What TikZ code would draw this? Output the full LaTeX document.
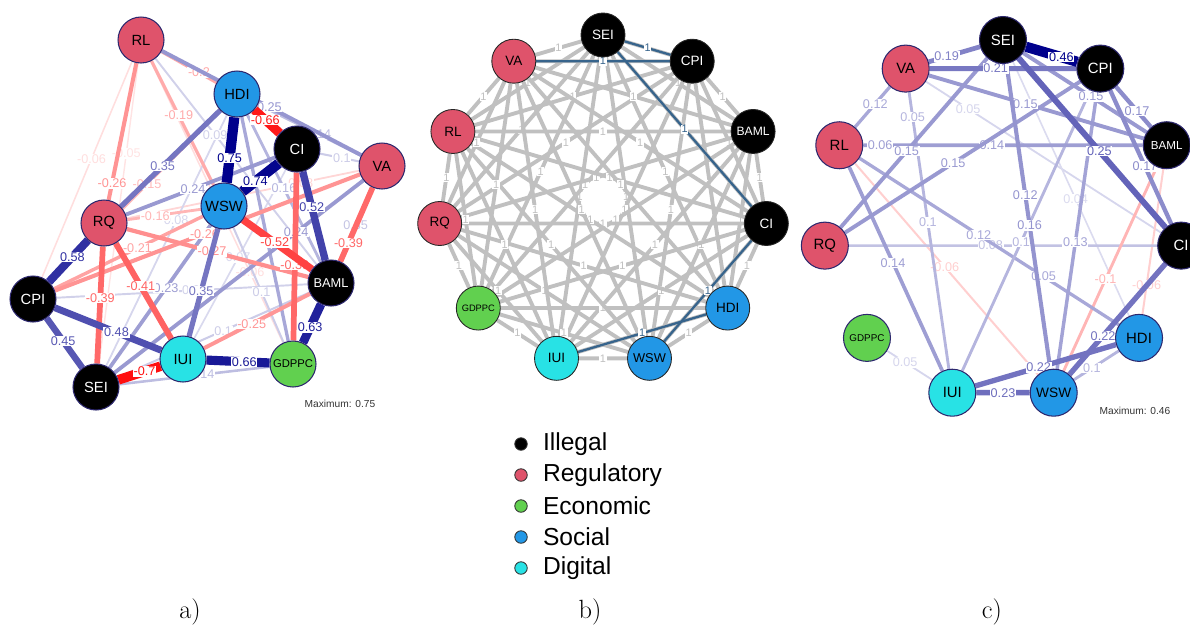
\documentclass[tikz,border=0pt]{standalone}
\usepackage{fontspec}
\setsansfont{Liberation Sans}
\usetikzlibrary{positioning}
\pgfdeclarelayer{edges}
\pgfsetlayers{edges,main}
\definecolor{posc}{RGB}{0,0,140}
\definecolor{negc}{RGB}{255,0,0}
\definecolor{regc}{HTML}{DF536B}
\definecolor{ecoc}{HTML}{61D04F}
\definecolor{socc}{HTML}{2297E6}
\definecolor{digc}{HTML}{28E2E5}
\definecolor{rimc}{RGB}{45,40,110}
\definecolor{onec}{RGB}{192,192,192}
\definecolor{bluec}{RGB}{55,100,140}
\begin{document}
\begin{tikzpicture}[x=0.02cm, y=-0.02cm,
    wmax/.store in=\wmax, wmax=0.75,
    wt/.code={\pgfmathsetmacro\wf{min(abs(#1)/\wmax,1)}%
      \pgfmathtruncatemacro\wc{100*\wf^0.8}%
      \ifdim #1pt<0pt \def\wcol{negc}\else \def\wcol{posc}\fi
      \tikzset{color=\wcol!\wc!white, line width=0.45pt+5.4pt*\wf}},
    anode/.style={circle, draw=rimc, line width=0.6pt, minimum size=0.92cm, inner sep=0pt, font=\sffamily\fontsize{8.4}{9}\selectfont},
    bnode/.style={circle, draw=black!85, line width=0.5pt, minimum size=0.88cm, inner sep=0pt},
    cnode/.style={circle, draw=rimc, line width=0.6pt, minimum size=0.94cm, inner sep=0pt},
    ill/.style={fill=black, text=white},
    reg/.style={fill=regc},
    eco/.style={fill=ecoc},
    soc/.style={fill=socc},
    dig/.style={fill=digc},
    lab/.style={fill=white, inner sep=0.4pt, font=\sffamily\fontsize{7.2}{7.2}\selectfont},
    grayedge/.style={color=onec, line width=2.2pt},
    blueedge/.style={color=bluec, line width=1.3pt},
    onelab/.style={fill=white, inner sep=0.4pt, font=\sffamily\fontsize{6.2}{6.2}\selectfont},
    maxtext/.style={font=\sffamily\fontsize{5.8}{6}\selectfont, text=black!80},
    legdot/.style={circle, draw=black!80, line width=0.5pt, minimum size=0.25cm, inner sep=0pt},
    legtext/.style={font=\sffamily\fontsize{14}{14}\selectfont, inner sep=0pt},
    sub/.style={font=\fontsize{15}{15}\selectfont}]
  \useasboundingbox (0,0) rectangle (1190,627);

  % a) correlation network
  \node[anode, reg] (aRL) at (141,40) {RL};
  \node[anode, soc] (aHDI) at (237,94) {HDI};
  \node[anode, ill] (aCI) at (297,149) {CI};
  \node[anode, reg] (aVA) at (382,166) {VA};
  \node[anode, soc] (aWSW) at (224,206) {WSW};
  \node[anode, reg] (aRQ) at (104,223) {RQ};
  \node[anode, ill] (aCPI) at (33,299) {CPI};
  \node[anode, ill, font=\sffamily\fontsize{7.3}{8}\selectfont] (aBAML) at (331,283) {BAML};
  \node[anode, dig] (aIUI) at (183,359) {IUI};
  \node[anode, eco, font=\sffamily\fontsize{6.4}{7}\selectfont] (aGDPPC) at (293,364) {GDPPC};
  \node[anode, ill] (aSEI) at (96,387) {SEI};
  \node[maxtext] (amax) at (340,404) {Maximum: 0.75};

  % b) full graph on a circle
  \def\blist{SEI,CPI,BAML,CI,HDI,WSW,IUI,GDPPC,RQ,RL,VA}
  \foreach \nm/\ty/\fs [count=\k] in {SEI/ill/7.7,CPI/ill/7.7,BAML/ill/6.9,CI/ill/7.7,HDI/soc/7.7,WSW/soc/7.3,IUI/dig/7.7,GDPPC/eco/5.3,RQ/reg/7.7,RL/reg/7.7,VA/reg/7.7}
    \node[bnode, \ty, font=\sffamily\fontsize{\fs}{\fs}\selectfont] (b\nm)
      at ({603+165*cos(90-32.727*(\k-1))},{200-165*sin(90-32.727*(\k-1))}) {\nm};

  % c) same circle, weighted
  \foreach \nm/\ty/\fs [count=\k] in {SEI/ill/8.5,CPI/ill/8.5,BAML/ill/6.6,CI/ill/8.5,HDI/soc/8.5,WSW/soc/7.8,IUI/dig/8.5,GDPPC/eco/5.6,RQ/reg/8.5,RL/reg/8.5,VA/reg/8.5}
    \node[cnode, \ty, font=\sffamily\fontsize{\fs}{\fs}\selectfont] (c\nm)
      at ({1003+180*cos(90-32.727*(\k-1))},{220-180*sin(90-32.727*(\k-1))}) {\nm};
  \node[maxtext] (cmax) at (1135,411) {Maximum: 0.46};

  % legend
  \foreach \ty/\nm [count=\k] in {black/Illegal,regc/Regulatory,ecoc/Economic,socc/Social,digc/Digital} {
    \node[legdot, fill=\ty] (d\k) at (521,{444+31*(\k-1)}) {};
    \node[legtext, right=0.3cm of d\k] (t\k) {\nm};
  }
  \node[sub] (la) at (190,612) {a)};
  \node[sub] (lb) at (590,612) {b)};
  \node[sub] (lc) at (992,612) {c)};

  \begin{pgfonlayer}{edges}
    % a)
    \draw[wt=-0.05] (aRL) to node[lab,pos=0.3]{-0.05} (aSEI);
    \draw[wt=-0.06] (aRL) to node[lab,pos=0.45]{-0.06} (aCPI);
    \draw[wt=-0.06] (aRL) to node[lab,pos=0.75]{-0.06} (aGDPPC);
    \draw[wt=0.07] (aCI) to node[lab,pos=0.52]{0.07} (aIUI);
    \draw[wt=-0.08] (aRQ) to node[lab,pos=0.74]{-0.08} (aVA);
    \draw[wt=0.08] (aSEI) to node[lab,pos=0.58]{0.08} (aHDI);
    \draw[wt=0.09] (aRL) to node[lab,pos=0.37]{0.09} (aBAML);
    \draw[wt=0.09] (aCPI) to node[lab,pos=0.55]{0.09} (aBAML);
    \draw[wt=0.1] (aSEI) to node[lab,pos=0.55]{0.1} (aBAML);
    \draw[wt=0.1] (aWSW) to node[lab,pos=0.56]{0.1} (aGDPPC);
    \draw[wt=0.1] (aCI) to node[lab,pos=0.56]{0.1} (aVA);
    \draw[wt=0.12] (aVA) to node[lab,pos=0.24]{0.35} (aGDPPC);
    \draw[wt=0.14] (aSEI) to node[lab,pos=0.55]{0.14} (aGDPPC);
    \draw[wt=0.14] (aHDI) to node[lab,pos=0.59]{0.14} (aVA);
    \draw[wt=-0.15] (aCPI) to node[lab,pos=0.57]{-0.15} (aHDI);
    \draw[wt=-0.16] (aRQ) to node[lab,pos=0.38]{-0.16} (aWSW);
    \draw[wt=0.16] (aHDI) to node[lab,pos=0.5]{0.16} (aBAML);
    \draw[wt=0.2] (aHDI) to (aGDPPC);
    \draw[wt=-0.19] (aRL) to node[lab,pos=0.44]{-0.19} (aWSW);
    \draw[wt=-0.2] (aRL) to node[lab,pos=0.68]{-0.2} (aHDI);
    \draw[wt=-0.21] (aCPI) to node[lab,pos=0.56]{-0.21} (aWSW);
    \draw[wt=0.23] (aSEI) to node[lab,pos=0.56]{0.23} (aWSW);
    \draw[wt=0.24] (aRQ) to node[lab,pos=0.45]{0.24} (aCI);
    \draw[wt=0.24] (aVA) to node[lab,pos=0.27]{0.24} (aSEI);
    \draw[wt=0.25] (aRL) to node[lab,pos=0.54]{0.25} (aVA);
    \draw[wt=-0.25] (aIUI) to node[lab,pos=0.45]{-0.25} (aBAML);
    \draw[wt=-0.26] (aCPI) to node[lab,pos=0.49]{-0.26} (aVA);
    \draw[wt=-0.26] (aRL) to node[lab,pos=0.88]{-0.26} (aRQ);
    \draw[wt=-0.27] (aRQ) to node[lab,pos=0.47]{-0.27} (aBAML);
    \draw[wt=0.35] (aIUI) to node[lab,pos=0.42]{0.35} (aWSW);
    \draw[wt=0.35] (aHDI) to node[lab,pos=0.58]{0.35} (aRQ);
    \draw[wt=-0.39] (aRQ) to node[lab,pos=0.44]{-0.39} (aSEI);
    \draw[wt=-0.39] (aVA) to node[lab,pos=0.75]{-0.39} (aBAML);
    \draw[wt=-0.39] (aCI) to node[lab,pos=0.55]{-0.39} (aGDPPC);
    \draw[wt=-0.41] (aRQ) to node[lab,pos=0.45]{-0.41} (aIUI);
    \draw[wt=0.45] (aCPI) to node[lab,pos=0.46]{0.45} (aSEI);
    \draw[wt=0.48] (aCPI) to node[lab,pos=0.58]{0.48} (aIUI);
    \draw[wt=-0.52] (aWSW) to node[lab,pos=0.46]{-0.52} (aBAML);
    \draw[wt=0.52] (aCI) to node[lab,pos=0.4]{0.52} (aBAML);
    \draw[wt=0.58] (aCPI) to node[lab,pos=0.6]{0.58} (aRQ);
    \draw[wt=0.63] (aBAML) to node[lab,pos=0.6]{0.63} (aGDPPC);
    \draw[wt=-0.66] (aHDI) to node[lab,pos=0.43]{-0.66} (aCI);
    \draw[wt=0.66] (aIUI) to node[lab,pos=0.6]{0.66} (aGDPPC);
    \draw[wt=-0.7] (aSEI) to node[lab,pos=0.62]{-0.7} (aIUI);
    \draw[wt=0.74] (aCI) to node[lab,pos=0.64]{0.74} (aWSW);
    \draw[wt=0.75] (aHDI) to node[lab,pos=0.62]{0.75} (aWSW);

    % b)
    \foreach \u [count=\i] in \blist {
      \foreach \v [count=\j] in \blist {
        \ifnum\j>\i
          \draw[grayedge] (b\u) to node[onelab]{1} (b\v);
        \fi
      }
    }
    \draw[blueedge] (bSEI) to node[onelab]{1} (bCPI);
    \draw[blueedge] (bVA) to node[onelab]{1} (bCPI);
    \draw[blueedge] (bSEI) to node[onelab]{1} (bCI);
    \draw[blueedge] (bCI) to node[onelab]{1} (bWSW);
    \draw[blueedge] (bHDI) to node[onelab]{1} (bIUI);

    % c)
    \begin{scope}[wmax=0.46]
      \draw[wt=0.05] (cVA) to node[lab,pos=0.18]{0.05} (cCI);
      \draw[wt=0.04] (cSEI) to node[lab,pos=0.54]{0.04} (cHDI);
      \draw[wt=0.05] (cGDPPC) to node[lab,pos=0.4]{0.05} (cIUI);
      \draw[wt=-0.06] (cRL) to node[lab,pos=0.49]{-0.06} (cWSW);
      \draw[wt=-0.06] (cHDI) to node[lab,pos=0.2]{-0.06} (cBAML);
      \draw[wt=0.08] (cRQ) to node[lab,pos=0.46]{0.08} (cCI);
      \draw[wt=0.1] (cWSW) to node[lab,pos=0.4]{0.1} (cHDI);
      \draw[wt=-0.1] (cWSW) to node[lab,pos=0.45]{-0.1} (cBAML);
      \draw[wt=0.1] (cVA) to node[lab,pos=0.09]{0.05} node[lab,pos=0.47]{0.1} (cIUI);
      \draw[wt=0.12] (cVA) to node[lab,pos=0.42]{0.12} (cRL);
      \draw[wt=0.12] (cRL) to node[lab,pos=0.46]{0.12} node[lab,pos=0.71]{0.05} (cHDI);
      \draw[wt=0.1] (cCPI) to node[lab,pos=0.54]{0.1} (cIUI);
      \draw[wt=0.13] (cCPI) to node[lab,pos=0.54]{0.13} (cWSW);
      \draw[wt=0.14] (cRL) to node[lab,pos=0.06]{0.06} node[lab,pos=0.46]{0.14} (cBAML);
      \draw[wt=0.14] (cRL) to node[lab,pos=0.47]{0.14} (cIUI);
      \draw[wt=0.15] (cSEI) to node[lab,pos=0.55]{0.15} (cRQ);
      \draw[wt=0.15] (cCPI) to node[lab,pos=0.54]{0.15} (cRQ);
      \draw[wt=0.15] (cVA) to node[lab,pos=0.45]{0.15} (cBAML);
      \draw[wt=0.15] (cSEI) to node[lab,pos=0.55]{0.15} (cBAML);
      \draw[wt=0.16] (cSEI) to node[lab,pos=0.43]{0.12} node[lab,pos=0.53]{0.16} (cWSW);
      \draw[wt=0.17] (cCPI) to node[lab,pos=0.6]{0.17} (cBAML);
      \draw[wt=0.17] (cCPI) to node[lab,pos=0.57]{0.17} (cCI);
      \draw[wt=0.19] (cVA) to node[lab,pos=0.35]{0.19} (cSEI);
      \draw[wt=0.21] (cVA) to node[lab,pos=0.45]{0.21} (cCPI);
      \draw[wt=0.22] (cIUI) to node[lab,pos=0.45]{0.22} (cHDI);
      \draw[wt=0.22] (cWSW) to node[lab,pos=0.35]{0.22} (cCI);
      \draw[wt=0.23] (cIUI) to node[lab,pos=0.5]{0.23} (cWSW);
      \draw[wt=0.25] (cSEI) to node[lab,pos=0.55]{0.25} (cCI);
      \draw[wt=0.46] (cSEI) to node[lab,pos=0.69]{0.46} (cCPI);
    \end{scope}
  \end{pgfonlayer}
\end{tikzpicture}
\end{document}
